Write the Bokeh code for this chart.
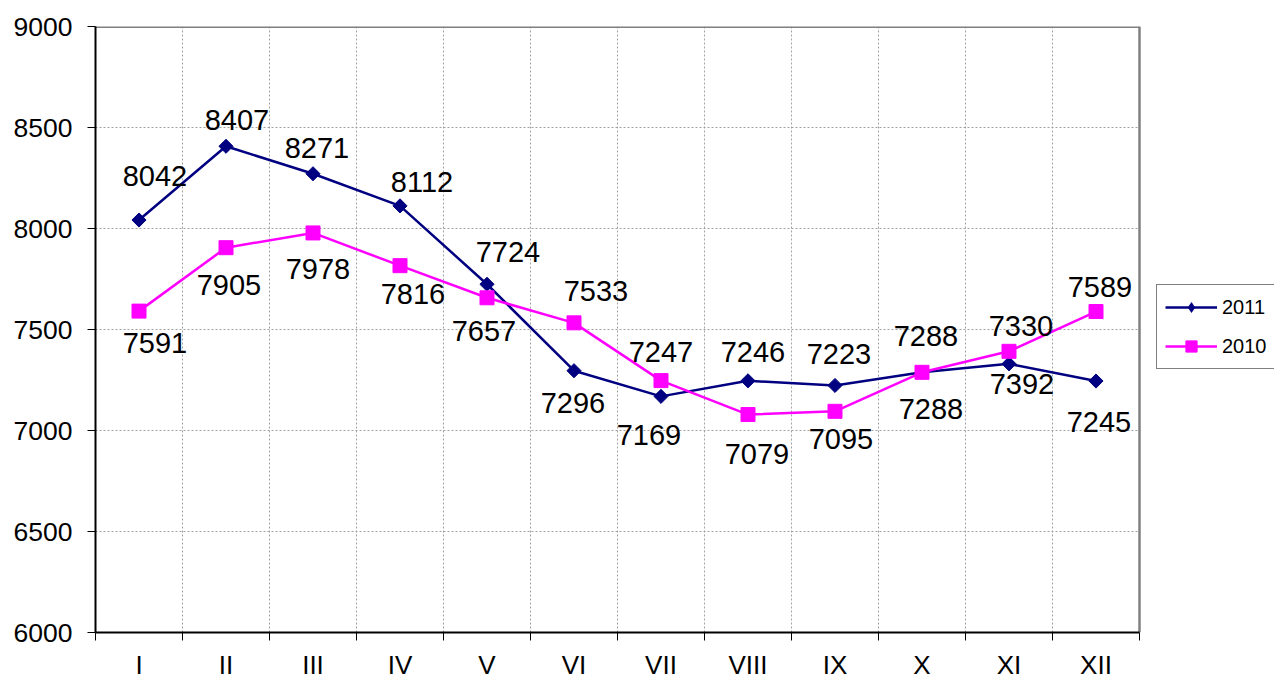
import math
from bokeh.plotting import figure
from bokeh.models import (ColumnDataSource, LabelSet, FixedTicker, Legend,
                          LegendItem, Range1d)
from bokeh.core.properties import value
from bokeh.embed import file_html
from bokeh.resources import INLINE

# ---- data ----
months = ["I", "II", "III", "IV", "V", "VI", "VII", "VIII", "IX", "X", "XI", "XII"]
y2011 = [8042, 8407, 8271, 8112, 7724, 7296, 7169, 7246, 7223, 7288, 7330, 7245]
y2010 = [7591, 7905, 7978, 7816, 7657, 7533, 7247, 7079, 7095, 7288, 7392, 7589]
y_ticks = [6000, 6500, 7000, 7500, 8000, 8500, 9000]

# ---- label placement styles (screen px: right, up) ----
dx2011 = [16, 11, 4, 22, 21, -1, -12, 5, 4, 4, 12, 3]
dy2011 = [44, 26, 26, 24, 32, -32, -39, 29, 31, 36, 38, -41]
dx2010 = [16, 3, 5, 13, -3, 22, 0, 9, 6, 9, 13, 4]
dy2010 = [-32, -37, -36, -28, -33, 32, 29, -39, -28, -37, -33, 25]

FONT = "Liberation Sans"
NAVY = "#000080"
MAGENTA = "#FF00FF"
GRID = "#a0a0a0"
BORDER = "#808080"

n = len(months)
xs = list(range(1, n + 1))
bounds = [i + 0.5 for i in range(0, n + 1)]
x_lo, x_hi = bounds[0], bounds[-1]
ymin, ymax = y_ticks[0], y_ticks[-1]

# frame spans to the right edge so the legend (inside the frame) is not clipped;
# the plot area itself ends at x_hi (135 px of extra room at 87 px per category)
p = figure(width=1274, height=682, output_backend="svg", toolbar_location=None,
           x_range=Range1d(x_lo, x_hi + 135 / 87), y_range=Range1d(ymin, ymax),
           min_border_left=95, min_border_right=0, min_border_top=26,
           min_border_bottom=50)
p.background_fill_color = "white"
p.border_fill_color = "white"
p.outline_line_color = None

# x axis
xt = FixedTicker(ticks=xs, minor_ticks=bounds)
p.xaxis.ticker = xt
p.xaxis.bounds = (x_lo, x_hi)
p.xaxis.major_label_overrides = {i + 1: m for i, m in enumerate(months)}
p.xaxis.major_tick_out = 0
p.xaxis.major_tick_in = 0
p.xaxis.minor_tick_out = 8
p.xaxis.minor_tick_in = 0
p.xaxis.minor_tick_line_color = "black"
p.xaxis.minor_tick_line_width = 1
p.xaxis.major_label_standoff = 9
p.xaxis.axis_label_standoff = 0
p.xaxis.major_label_text_font = FONT
p.xaxis.major_label_text_font_size = "26px"
p.xaxis.major_label_text_color = "black"
p.xaxis.axis_line_color = "black"
p.xaxis.axis_line_width = 2

# y axis
yt = FixedTicker(ticks=y_ticks)
p.yaxis.ticker = yt
p.yaxis.major_tick_out = 8
p.yaxis.major_tick_in = 0
p.yaxis.minor_tick_out = 0
p.yaxis.minor_tick_in = 0
p.yaxis.major_tick_line_color = "black"
p.yaxis.major_label_standoff = 15
p.yaxis.major_label_text_font = FONT
p.yaxis.major_label_text_font_size = "26.5px"
p.yaxis.major_label_text_color = "black"
p.yaxis.axis_line_color = "black"
p.yaxis.axis_line_width = 2

# grids (vertical: category boundaries; horizontal: drawn only across plot area)
p.xgrid.ticker = xt
p.xgrid.grid_line_color = None
p.xgrid.minor_grid_line_color = GRID
p.xgrid.minor_grid_line_dash = "2 2"
p.xgrid.minor_grid_line_width = 1
p.ygrid.grid_line_color = None
inner = y_ticks[1:-1]
p.segment(x0=[x_lo] * len(inner), x1=[x_hi] * len(inner), y0=inner, y1=inner,
          line_color=GRID, line_dash="2 2", line_width=1)

# plot-area border (top and right, gray)
p.segment(x0=[x_lo], x1=[x_hi], y0=[ymax], y1=[ymax], line_color=BORDER, line_width=3)
p.segment(x0=[x_hi], x1=[x_hi], y0=[ymin], y1=[ymax], line_color=BORDER, line_width=2.5)

# series
l11 = p.line(xs, y2011, line_color=NAVY, line_width=2.5)
p.scatter(xs, y2011, marker="square", angle=math.pi / 4, size=10,
          fill_color=NAVY, line_color=NAVY)
# zero-size diamond glyph: invisible in the plot, gives the legend its diamond
d11 = p.scatter(xs, y2011, marker="diamond", size=0,
                fill_color=NAVY, line_color=None)
l10 = p.line(xs, y2010, line_color=MAGENTA, line_width=2.5)
m10 = p.scatter(xs, y2010, marker="square", size=14,
                fill_color=MAGENTA, line_color=MAGENTA)

# data labels
for vals, dxs, dys in ((y2011, dx2011, dy2011), (y2010, dx2010, dy2010)):
    src = ColumnDataSource(dict(x=xs, y=vals, text=[str(v) for v in vals],
                                dx=dxs, dy=dys))
    p.add_layout(LabelSet(x="x", y="y", text="text", x_offset="dx", y_offset="dy",
                          source=src, text_align="center", text_baseline="middle",
                          text_font=value(FONT), text_font_size="29px",
                          text_color="black"))

# legend
legend = Legend(items=[LegendItem(label="2011", renderers=[l11, d11]),
                       LegendItem(label="2010", renderers=[l10, m10])],
                location=(1061, 263), orientation="vertical",
                border_line_color="black", border_line_width=1,
                background_fill_color="white", background_fill_alpha=1,
                padding=8, spacing=11, margin=0,
                glyph_width=52, glyph_height=28, label_height=28,
                label_standoff=5, label_text_font=FONT,
                label_text_font_size="20px", label_text_color="black")
p.add_layout(legend)

open("out.html", "w").write(file_html(p, INLINE))
